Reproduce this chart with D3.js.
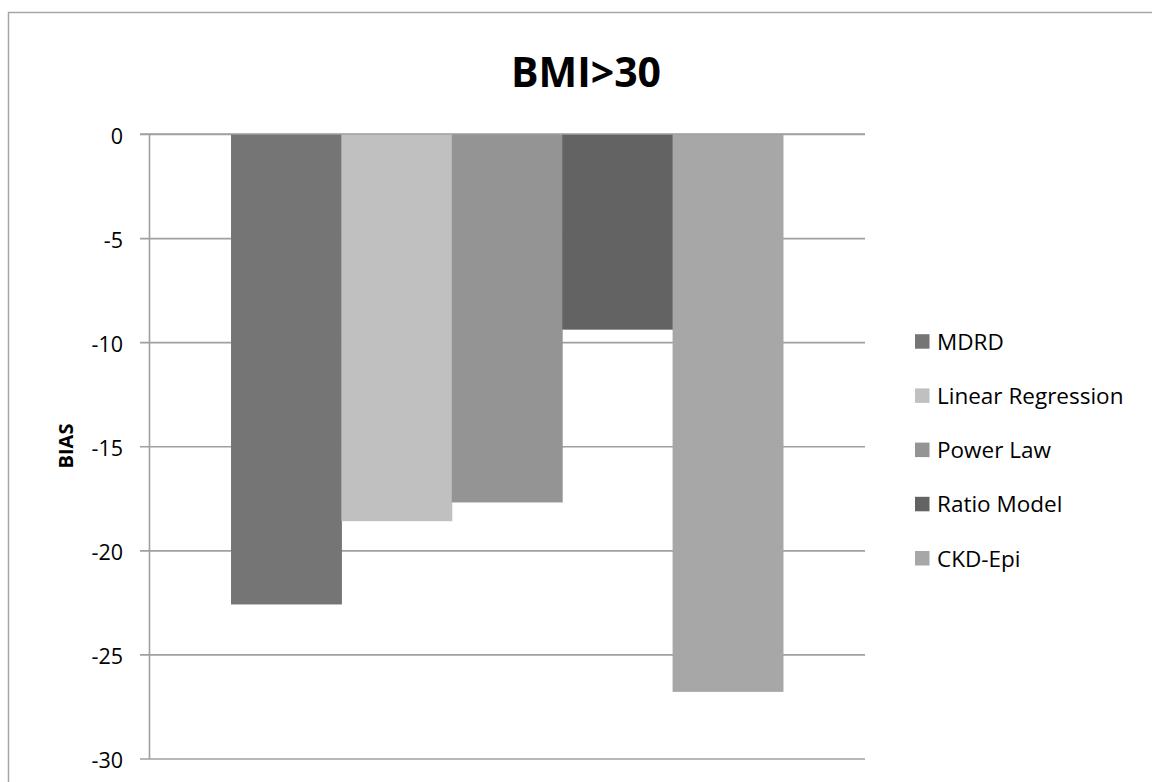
<!DOCTYPE html>
<html>
<head>
<meta charset="utf-8">
<script src="https://cdn.jsdelivr.net/npm/d3@7/dist/d3.min.js"></script>
<style>
  html, body { margin: 0; padding: 0; background: #fff; }
  svg { display: block; }
  text { font-family: "Open Sans", "DejaVu Sans", sans-serif; fill: #000; }
</style>
</head>
<body>
<svg id="chart" width="1152" height="782"></svg>
<script>
// ---- data ----
const categories = ["BMI>30"];
const seriesNames = ["MDRD", "Linear Regression", "Power Law", "Ratio Model", "CKD-Epi"];
const seriesValues = [-22.6, -18.6, -17.7, -9.4, -26.8];
const seriesColors = ["#757575", "#c0c0c0", "#949494", "#636363", "#a7a7a7"];
const yTickValues = [0, -5, -10, -15, -20, -25, -30];
const yTickLabels = ["0", "-5", "-10", "-15", "-20", "-25", "-30"];
const chartTitle = "BMI>30";
const yAxisTitle = "BIAS";

// ---- layout ----
const svg = d3.select("#chart");
const plot = { left: 149, right: 865, top: 134, bottom: 758.5 };

// outer chart border
svg.append("rect")
  .attr("x", 8.5).attr("y", 12.5)
  .attr("width", 1200).attr("height", 800)
  .attr("fill", "#fff")
  .attr("stroke", "#a6a6a6").attr("stroke-width", 1.5);

const y = d3.scaleLinear().domain([-30, 0]).range([plot.bottom, plot.top]);
const xOuter = d3.scaleBand().domain(categories)
  .range([plot.left, plot.right]).paddingInner(0).paddingOuter(0.1486);
const xInner = d3.scaleBand().domain(seriesNames)
  .range([0, xOuter.bandwidth()]).padding(0);

// gridlines (extending left to form tick marks)
const grid = svg.append("g")
  .attr("transform", `translate(${plot.right},0)`)
  .call(d3.axisLeft(y).tickValues(yTickValues)
    .tickSize(plot.right - plot.left + 9).tickFormat(""));
grid.select(".domain").remove();
grid.selectAll(".tick line").attr("stroke", "#a0a0a0").attr("stroke-width", 1.6);

// bars
const g = svg.append("g");
categories.forEach(cat => {
  g.selectAll("rect.bar")
    .data(seriesNames.map((s, i) => ({ s, v: seriesValues[i], c: seriesColors[i] })))
    .enter().append("rect")
    .attr("class", "bar")
    .attr("x", d => xOuter(cat) + xInner(d.s))
    .attr("width", xInner.bandwidth() + 0.5)
    .attr("y", d => y(Math.max(0, d.v)))
    .attr("height", d => Math.abs(y(d.v) - y(0)))
    .attr("fill", d => d.c);
});

// y axis (line + labels)
const yAxis = svg.append("g")
  .attr("transform", `translate(${plot.left},0)`)
  .call(d3.axisLeft(y).tickValues(yTickValues).tickSize(0).tickPadding(26)
    .tickFormat((d, i) => yTickLabels[i]));
yAxis.select(".domain").attr("stroke", "#a0a0a0").attr("stroke-width", 1.6);
yAxis.selectAll(".tick text")
  .style("font-family", '"Open Sans", sans-serif')
  .style("font-size", "21.5px")
  .attr("fill", "#000")
  .attr("dy", "0.42em");

// redraw zero gridline over bars top edge
svg.append("line")
  .attr("x1", plot.left - 9).attr("x2", plot.right)
  .attr("y1", y(0)).attr("y2", y(0))
  .attr("stroke", "#a0a0a0").attr("stroke-width", 1.6);

// title
svg.append("text")
  .attr("x", 586).attr("y", 87)
  .attr("text-anchor", "middle")
  .style("font-size", "41px").style("font-weight", "bold")
  .text(chartTitle);

// y axis title
svg.append("text")
  .attr("transform", "translate(65.5,446) rotate(-90)")
  .attr("text-anchor", "middle")
  .attr("dy", "0.36em")
  .style("font-size", "20px").style("font-weight", "bold")
  .text(yAxisTitle);

// legend
const legend = svg.append("g");
const legY = d3.scalePoint().domain(seriesNames).range([341.7, 558.5]);
seriesNames.forEach((s, i) => {
  legend.append("rect")
    .attr("x", 915).attr("y", legY(s) - 7.5)
    .attr("width", 14.5).attr("height", 14.5)
    .attr("fill", seriesColors[i]);
  legend.append("text")
    .attr("x", 937).attr("y", legY(s))
    .attr("dy", "0.36em")
    .style("font-size", "22.5px")
    .text(s);
});
</script>
</body>
</html>
